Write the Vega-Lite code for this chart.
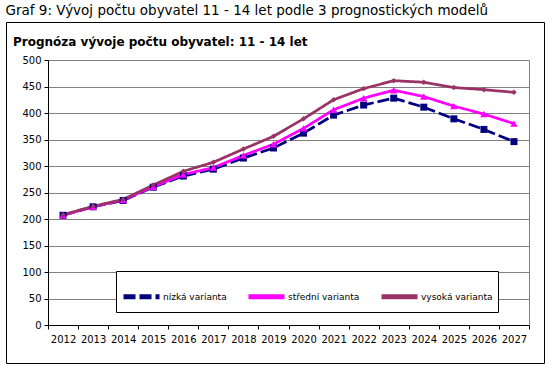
{
  "$schema": "https://vega.github.io/schema/vega-lite/v6.json",
  "padding": {"left": 5, "top": 4, "right": 8, "bottom": 8},
  "background": "white",
  "config": {
    "font": "DejaVu Sans",
    "view": {"stroke": "black", "strokeWidth": 1, "fill": "white"},
    "axis": {"domainColor": "black", "tickColor": "black", "labelColor": "black", "labelFontSize": 10, "gridColor": "#808080", "gridWidth": 1, "tickSize": 4, "title": null}
  },
  "title": {"text": "Graf 9: Vývoj počtu obyvatel 11 - 14 let podle 3 prognostických modelů", "anchor": "start", "fontSize": 13.5, "fontWeight": "normal", "color": "black", "offset": 4},
  "data": {"values": [
    {"year": "2012", "series": "nízká varianta", "value": 207},
    {"year": "2013", "series": "nízká varianta", "value": 223},
    {"year": "2014", "series": "nízká varianta", "value": 235},
    {"year": "2015", "series": "nízká varianta", "value": 260},
    {"year": "2016", "series": "nízká varianta", "value": 281},
    {"year": "2017", "series": "nízká varianta", "value": 294},
    {"year": "2018", "series": "nízká varianta", "value": 315},
    {"year": "2019", "series": "nízká varianta", "value": 334},
    {"year": "2020", "series": "nízká varianta", "value": 362},
    {"year": "2021", "series": "nízká varianta", "value": 396},
    {"year": "2022", "series": "nízká varianta", "value": 415},
    {"year": "2023", "series": "nízká varianta", "value": 428},
    {"year": "2024", "series": "nízká varianta", "value": 411},
    {"year": "2025", "series": "nízká varianta", "value": 389},
    {"year": "2026", "series": "nízká varianta", "value": 369},
    {"year": "2027", "series": "nízká varianta", "value": 346},
    {"year": "2012", "series": "střední varianta", "value": 207},
    {"year": "2013", "series": "střední varianta", "value": 223},
    {"year": "2014", "series": "střední varianta", "value": 236},
    {"year": "2015", "series": "střední varianta", "value": 261},
    {"year": "2016", "series": "střední varianta", "value": 284},
    {"year": "2017", "series": "střední varianta", "value": 297},
    {"year": "2018", "series": "střední varianta", "value": 320},
    {"year": "2019", "series": "střední varianta", "value": 341},
    {"year": "2020", "series": "střední varianta", "value": 371},
    {"year": "2021", "series": "střední varianta", "value": 406},
    {"year": "2022", "series": "střední varianta", "value": 428},
    {"year": "2023", "series": "střední varianta", "value": 443},
    {"year": "2024", "series": "střední varianta", "value": 431},
    {"year": "2025", "series": "střední varianta", "value": 413},
    {"year": "2026", "series": "střední varianta", "value": 398},
    {"year": "2027", "series": "střední varianta", "value": 380},
    {"year": "2012", "series": "vysoká varianta", "value": 208},
    {"year": "2013", "series": "vysoká varianta", "value": 224},
    {"year": "2014", "series": "vysoká varianta", "value": 237},
    {"year": "2015", "series": "vysoká varianta", "value": 264},
    {"year": "2016", "series": "vysoká varianta", "value": 290},
    {"year": "2017", "series": "vysoká varianta", "value": 307},
    {"year": "2018", "series": "vysoká varianta", "value": 332},
    {"year": "2019", "series": "vysoká varianta", "value": 356},
    {"year": "2020", "series": "vysoká varianta", "value": 389},
    {"year": "2021", "series": "vysoká varianta", "value": 425},
    {"year": "2022", "series": "vysoká varianta", "value": 446},
    {"year": "2023", "series": "vysoká varianta", "value": 461},
    {"year": "2024", "series": "vysoká varianta", "value": 458},
    {"year": "2025", "series": "vysoká varianta", "value": 448},
    {"year": "2026", "series": "vysoká varianta", "value": 444},
    {"year": "2027", "series": "vysoká varianta", "value": 439}
  ]},
  "vconcat": [{
    "width": 538,
    "height": 341,
    "title": {"text": "Prognóza vývoje počtu obyvatel: 11 - 14 let", "anchor": "start", "fontSize": 12, "fontWeight": "bold", "color": "black", "offset": -27, "dx": 7},
    "encoding": {
      "x": {"field": "year", "type": "ordinal", "scale": {"type": "band", "paddingInner": 0, "paddingOuter": 0, "range": [42, 523]},
            "axis": {"orient": "bottom", "offset": -38, "tickBand": "extent", "labelAngle": 0, "labelPadding": 5, "grid": false}},
      "y": {"field": "value", "type": "quantitative", "scale": {"domain": [0, 500], "range": [303, 38], "nice": false}}
    },
    "layer": [
      {
        "mark": {"type": "line", "strokeWidth": 2.75},
        "encoding": {
          "y": {"field": "value", "type": "quantitative", "axis": {"orient": "left", "offset": -42, "values": [0, 50, 100, 150, 200, 250, 300, 350, 400, 450, 500], "labelPadding": 3, "grid": true}},
          "color": {"field": "series", "type": "nominal", "scale": {"domain": ["nízká varianta", "střední varianta", "vysoká varianta"], "range": ["#000080", "#FF00FF", "#993366"]},
                    "legend": {"title": null, "orient": "none", "legendX": 110, "legendY": 249, "direction": "horizontal", "fillColor": "white", "strokeColor": "black", "padding": 5, "columnPadding": 11, "labelFontSize": 9, "labelColor": "black", "labelOffset": 1, "symbolType": "stroke", "symbolSize": 1296, "symbolStrokeWidth": 5}},
          "strokeDash": {"field": "series", "type": "nominal", "scale": {"domain": ["nízká varianta", "střední varianta", "vysoká varianta"], "range": [[12, 4], [1, 0], [1, 0]]},
                    "legend": {"title": null, "orient": "none", "legendX": 110, "legendY": 249, "direction": "horizontal", "fillColor": "white", "strokeColor": "black", "padding": 5, "columnPadding": 11, "labelFontSize": 9, "labelColor": "black", "labelOffset": 1, "symbolType": "stroke", "symbolSize": 1296, "symbolStrokeWidth": 5}}
        }
      },
      {
        "transform": [{"filter": "datum.series === 'nízká varianta'"}],
        "mark": {"type": "point", "filled": true, "opacity": 1, "shape": "square", "size": 49, "color": "#000080"},
        "encoding": {
          "y": {"field": "value", "type": "quantitative", "axis": {"orient": "right", "offset": -15, "labels": false, "ticks": false, "grid": false, "domainColor": "#808080"}}
        }
      },
      {
        "transform": [{"filter": "datum.series === 'střední varianta'"}],
        "mark": {"type": "point", "filled": true, "opacity": 1, "shape": "triangle-up", "size": 55, "color": "#FF00FF"},
        "encoding": {
          "y": {"field": "value", "type": "quantitative", "axis": null}
        }
      },
      {
        "transform": [{"filter": "datum.series === 'vysoká varianta'"}],
        "mark": {"type": "point", "filled": true, "opacity": 1, "shape": "diamond", "size": 30, "color": "#993366"},
        "encoding": {
          "y": {"field": "value", "type": "quantitative", "axis": null}
        }
      }
    ],
    "resolve": {"axis": {"y": "independent"}}
  }]
}
